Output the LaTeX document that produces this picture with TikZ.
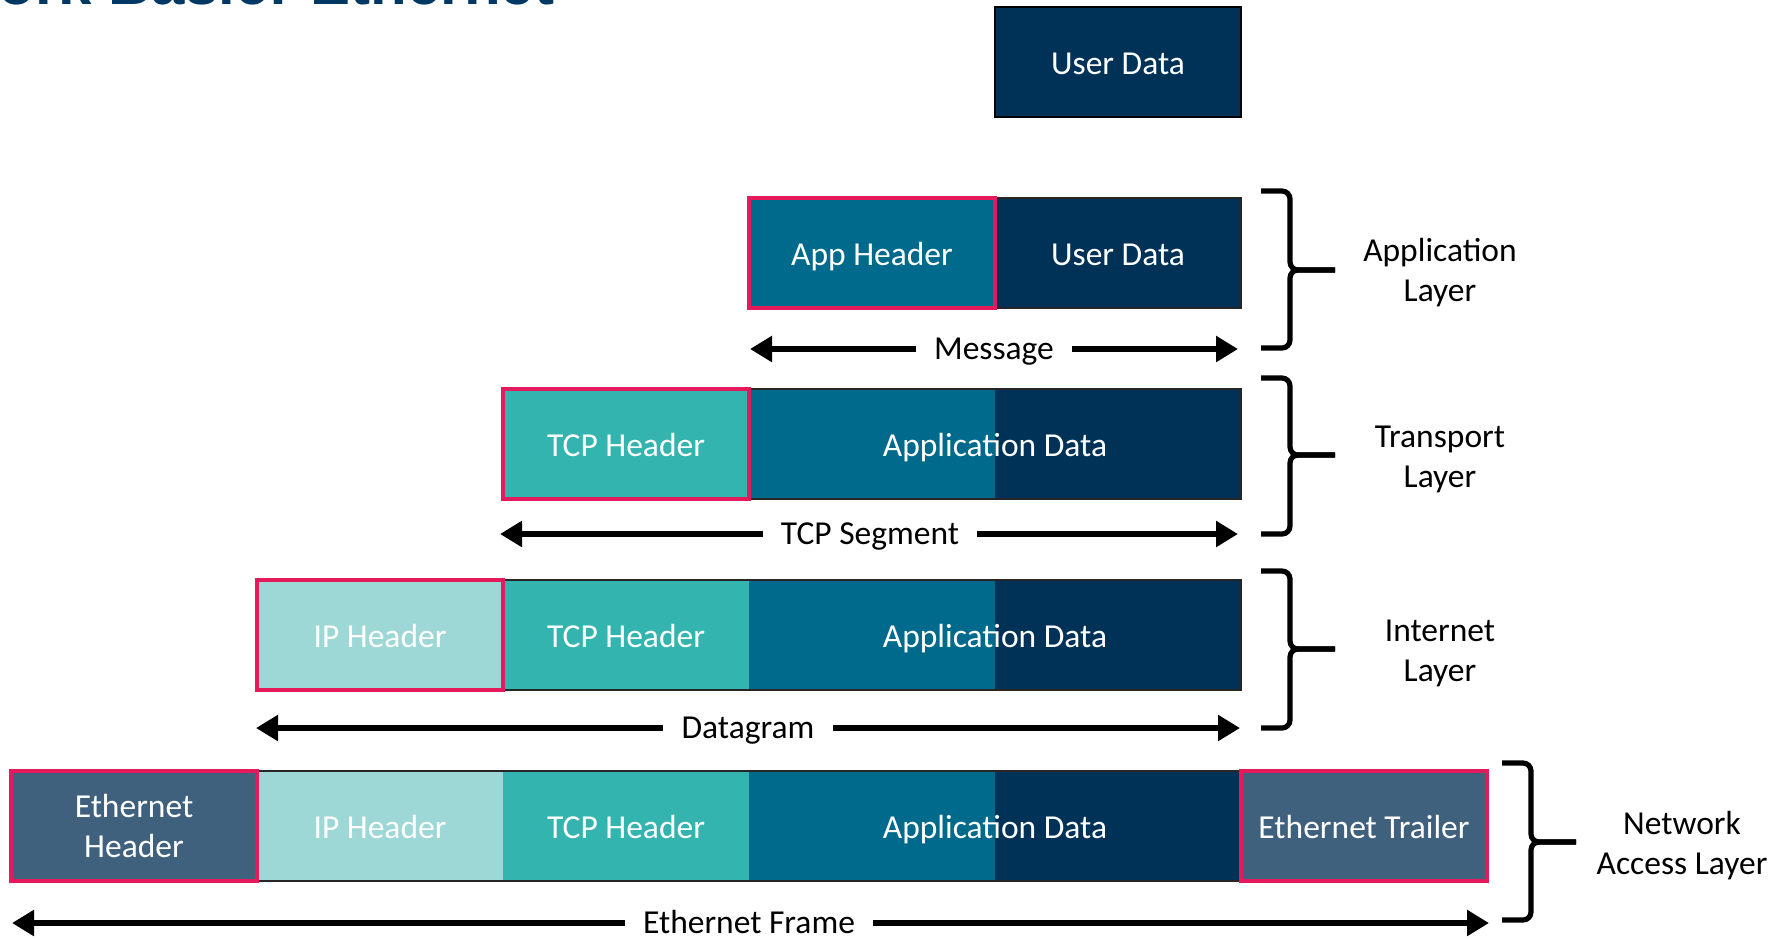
\documentclass[tikz,border=0pt]{standalone}
\usepackage{fontspec}
\setmainfont{Carlito}
\newfontfamily\titlefont{Liberation Sans}
\usetikzlibrary{arrows.meta,calc}

\definecolor{navy}{RGB}{0,50,88}
\definecolor{appblue}{RGB}{0,106,140}
\definecolor{tcpteal}{RGB}{52,180,174}
\definecolor{iplight}{RGB}{157,216,214}
\definecolor{ethslate}{RGB}{64,97,126}
\definecolor{hilite}{RGB}{228,26,92}
\definecolor{titleblue}{RGB}{0,56,100}

\tikzset{
  cell/.style={anchor=north west, minimum width=123pt, minimum height=55pt,
    inner sep=0pt, outer sep=0pt, text=white,
    font=\fontsize{16.75}{20}\selectfont, text height=15pt, text depth=2.6pt},
  twoline/.style={text height=, text depth=, align=center},
  celltext/.style={inner sep=0pt, text=white, font=\fontsize{16.75}{20}\selectfont,
    text height=15pt, text depth=2.6pt},
  rowline/.style={draw=black!85, line width=0.8pt},
  hdr/.style={draw=hilite, line width=2.4pt},
  span/.style={line width=3.4pt, -{Triangle[length=11pt,width=12.5pt]}},
  spanlabel/.style={fill=white, inner xsep=9pt, inner ysep=0pt,
    font=\fontsize{16.75}{20}\selectfont, text height=13.8pt, text depth=3pt},
  brace/.style={line width=2.6pt, rounded corners=4pt},
  layer/.style={align=center, font=\fontsize{16.75}{20}\selectfont},
}

% curly bracket: left end x, top y, bottom y, middle y
\newcommand\layerbrace[4]{%
  \draw[brace] (#1,#2) -- (#1+29,#2) -- (#1+29,#4) -- (#1+74,#4);
  \draw[brace] (#1,#3) -- (#1+29,#3) -- (#1+29,#4) -- (#1+74,#4);
}

\begin{document}
\begin{tikzpicture}[x=0.5pt,y=-0.5pt]
\useasboundingbox (0,0) rectangle (1789,939);
\clip (0,0) rectangle (1789,939);

% heading
\node[anchor=base west, inner sep=0pt, text=titleblue,
  font=\titlefont\bfseries\fontsize{30}{36}\selectfont] (title) at (-2,4) {ork Basic: Ethernet};

% user data on its own
\node[cell, fill=navy, draw=black, line width=1pt] (ud0) at (995,7) {User Data};

% application layer
\node[cell, fill=appblue] (ah1) at (749,198) {App Header};
\node[cell, fill=navy] (ud1) at (995,198) {User Data};
\draw[rowline] (ah1.north west) rectangle (ud1.south east);
\draw[hdr] (ah1.north west) rectangle (ah1.south east);

\node[spanlabel] (msg) at (994,349) {Message};
\coordinate (msgL) at (750,349);
\coordinate (msgR) at (1238,349);
\draw[span] (msg.west) -- (msgL);
\draw[span] (msg.east) -- (msgR);

% transport layer
\node[cell, fill=tcpteal] (tcp2) at (503,389) {TCP Header};
\node[cell, fill=appblue] (ad2a) at (749,389) {};
\node[cell, fill=navy] (ad2b) at (995,389) {};
\node[celltext] (ad2) at (ad2a.east) {Application Data};
\draw[rowline] (tcp2.north west) rectangle (ad2b.south east);
\draw[hdr] (tcp2.north west) rectangle (tcp2.south east);

\node[spanlabel] (seg) at (870,534) {TCP Segment};
\coordinate (segL) at (500,534);
\coordinate (segR) at (1238,534);
\draw[span] (seg.west) -- (segL);
\draw[span] (seg.east) -- (segR);

% internet layer
\node[cell, fill=iplight] (ip3) at (257,580) {IP Header};
\node[cell, fill=tcpteal] (tcp3) at (503,580) {TCP Header};
\node[cell, fill=appblue] (ad3a) at (749,580) {};
\node[cell, fill=navy] (ad3b) at (995,580) {};
\node[celltext] (ad3) at (ad3a.east) {Application Data};
\draw[rowline] (ip3.north west) rectangle (ad3b.south east);
\draw[hdr] (ip3.north west) rectangle (ip3.south east);

\node[spanlabel] (dgm) at (748,728) {Datagram};
\coordinate (dgmL) at (256,728);
\coordinate (dgmR) at (1240,728);
\draw[span] (dgm.west) -- (dgmL);
\draw[span] (dgm.east) -- (dgmR);

% network access layer
\node[cell, twoline, fill=ethslate] (eth4) at (11,771) {Ethernet\\Header};
\node[cell, fill=iplight] (ip4) at (257,771) {IP Header};
\node[cell, fill=tcpteal] (tcp4) at (503,771) {TCP Header};
\node[cell, fill=appblue] (ad4a) at (749,771) {};
\node[cell, fill=navy] (ad4b) at (995,771) {};
\node[celltext] (ad4) at (ad4a.east) {Application Data};
\node[cell, fill=ethslate] (tr4) at (1241,771) {Ethernet Trailer};
\draw[rowline] (eth4.north west) rectangle (tr4.south east);
\draw[hdr] (eth4.north west) rectangle (eth4.south east);
\draw[hdr] (tr4.north west) rectangle (tr4.south east);

\node[spanlabel] (frm) at (749,923) {Ethernet Frame};
\coordinate (frmL) at (12,923);
\coordinate (frmR) at (1489,923);
\draw[span] (frm.west) -- (frmL);
\draw[span] (frm.east) -- (frmR);

% layer brackets and names
\layerbrace{1261}{191}{348}{270}
\layerbrace{1261}{378}{534}{455}
\layerbrace{1261}{571}{728}{649}
\layerbrace{1502}{763}{920}{842}

\node[layer] (appl) at (1440,273) {Application\\Layer};
\node[layer] (trl) at (1440,459) {Transport\\Layer};
\node[layer] (inl) at (1440,653) {Internet\\Layer};
\node[layer] (nal) at (1682,846) {Network\\Access Layer};
\end{tikzpicture}
\end{document}
